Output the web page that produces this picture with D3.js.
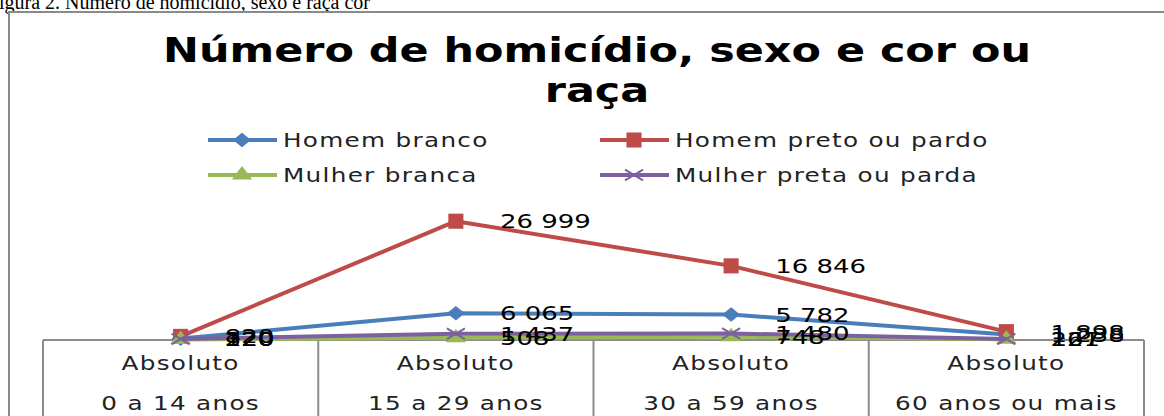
<!DOCTYPE html>
<html>
<head>
<meta charset="utf-8">
<script src="https://cdn.jsdelivr.net/npm/d3@7/dist/d3.min.js"></script>
<style>
  html, body { margin: 0; padding: 0; background: #fff; overflow: hidden; }
  svg { display: block; }
</style>
</head>
<body>
<div id="chart"></div>
<script>
// data
const categories = ["0 a 14 anos", "15 a 29 anos", "30 a 59 anos", "60 anos ou mais"];
const categoryTop = "Absoluto";
const seriesNames = ["Homem branco", "Homem preto ou pardo", "Mulher branca", "Mulher preta ou parda"];
const homemBranco = [320, 6065, 5782, 1238];
const homemPreto = [820, 26999, 16846, 1898];
const mulherBranca = [120, 508, 748, 167];
const mulherPreta = [220, 1437, 1480, 221];

const width = 1164;
const height = 416;
const K = 1.3; // horizontal stretch of the chart text in the picture

const colors = ["#4A7EBB", "#BE4B48", "#98B954", "#7D60A0"];
const shapes = ["diamond", "square", "triangle", "cross"];
const series = seriesNames.map((name, i) => ({
  name,
  color: colors[i],
  shape: shapes[i],
  values: [homemBranco, homemPreto, mulherBranca, mulherPreta][i],
}));

const fmt = d3.formatLocale({ decimal: ",", thousands: " ", grouping: [3], currency: ["", ""] }).format(",d");

const svg = d3
  .select("#chart")
  .append("svg")
  .attr("width", width)
  .attr("height", height);

// stretched text helper
function stext(g, x, y, str, k = K) {
  return g
    .append("text")
    .attr("transform", `translate(${x},${y}) scale(${k},1)`)
    .text(str);
}

// figure caption, cut off at the top
stext(svg, 370, 9, "Figura 2. Número de homicídio, sexo e raça cor", 1)
  .attr("text-anchor", "end")
  .style("font-family", "'Liberation Serif', 'Times New Roman', serif")
  .style("font-size", "20px")
  .attr("fill", "#000");

// chart frame
svg
  .append("rect")
  .attr("x", 9)
  .attr("y", 12)
  .attr("width", 1170)
  .attr("height", 420)
  .attr("fill", "#fff")
  .attr("stroke", "#8a8a8a")
  .attr("stroke-width", 2);

// title
const title = svg
  .append("g")
  .style("font-family", "'DejaVu Sans', Verdana, sans-serif")
  .style("font-weight", "bold")
  .style("font-size", "33px")
  .attr("fill", "#000")
  .attr("text-anchor", "middle");
stext(title, 597, 62, "Número de homicídio, sexo e cor ou");
stext(title, 597, 102, "raça");

// scales
const x = d3.scaleBand().domain(categories).range([43, 1144]).paddingInner(0).paddingOuter(0);
const cx = (c) => x(c) + x.bandwidth() / 2;
const y = d3.scaleLinear().domain([0, 30000]).range([340, 208]);

// marker drawing
function marker(g, shape, color, px, py) {
  if (shape === "cross") {
    const s = 9;
    g.append("path")
      .attr("d", `M${px - s},${py - s * 0.6}L${px + s},${py + s * 0.6}M${px - s},${py + s * 0.6}L${px + s},${py - s * 0.6}`)
      .attr("stroke", color)
      .attr("stroke-width", 2)
      .attr("fill", "none");
    return;
  }
  const sym = {
    diamond: d3.symbolDiamond2,
    square: d3.symbolSquare2,
    triangle: d3.symbolTriangle2,
  }[shape];
  const size = { diamond: 140, square: 290, triangle: 210 }[shape];
  g.append("path")
    .attr("d", d3.symbol(sym, size)())
    .attr("transform", `translate(${px},${py})` + (shape === "diamond" ? " scale(1.1,0.9)" : "") + (shape === "triangle" ? " scale(1.2,0.9)" : ""))
    .attr("fill", color)
    .attr("stroke", color)
    .attr("stroke-width", shape === "diamond" ? 1 : 0);
}

// category table
const table = svg.append("g").attr("stroke", "#8c8c8c").attr("stroke-width", 2).attr("fill", "none");
table
  .append("line")
  .attr("x1", x.range()[0])
  .attr("x2", x.range()[1])
  .attr("y1", y(0))
  .attr("y2", y(0));
table
  .selectAll("line.sep")
  .data(categories.concat([null]))
  .join("line")
  .attr("class", "sep")
  .attr("x1", (d) => (d ? x(d) : x.range()[1]))
  .attr("x2", (d) => (d ? x(d) : x.range()[1]))
  .attr("y1", y(0))
  .attr("y2", height + 5);

const catLabels = svg
  .append("g")
  .style("font-family", "'DejaVu Sans', Verdana, sans-serif")
  .style("font-size", "19px")
  .style("letter-spacing", "1px")
  .attr("fill", "#222")
  .attr("text-anchor", "middle");
categories.forEach((c) => {
  stext(catLabels, cx(c), 370, categoryTop);
  stext(catLabels, cx(c), 410, c);
});

// series lines and markers
const line = d3
  .line()
  .x((d, i) => cx(categories[i]))
  .y((d) => y(d));

series.forEach((s) => {
  const g = svg.append("g");
  g.append("path")
    .attr("d", line(s.values))
    .attr("fill", "none")
    .attr("stroke", s.color)
    .attr("stroke-width", 4)
    .attr("stroke-linejoin", "round");
  s.values.forEach((v, i) => marker(g, s.shape, s.color, cx(categories[i]), y(v)));
});

// data labels
const labels = svg
  .append("g")
  .style("font-family", "'DejaVu Sans', Verdana, sans-serif")
  .style("font-size", "20px")
  .attr("fill", "#000");
series.forEach((s) => {
  s.values.forEach((v, i) => {
    stext(labels, cx(categories[i]) + 44, y(v) + 7, fmt(v));
  });
});

// legend
const legendPos = [
  [208, 140],
  [600, 140],
  [208, 175],
  [600, 175],
];
const legend = svg
  .append("g")
  .style("font-family", "'DejaVu Sans', Verdana, sans-serif")
  .style("font-size", "19px")
  .style("letter-spacing", "1px")
  .attr("fill", "#222");
series.forEach((s, i) => {
  const [lx, ly] = legendPos[i];
  const g = legend.append("g");
  g.append("line")
    .attr("x1", lx)
    .attr("x2", lx + 69)
    .attr("y1", ly)
    .attr("y2", ly)
    .attr("stroke", s.color)
    .attr("stroke-width", 4);
  marker(g, s.shape, s.color, lx + 34, ly);
  stext(g, lx + 75, ly + 7, s.name);
});
</script>
</body>
</html>
